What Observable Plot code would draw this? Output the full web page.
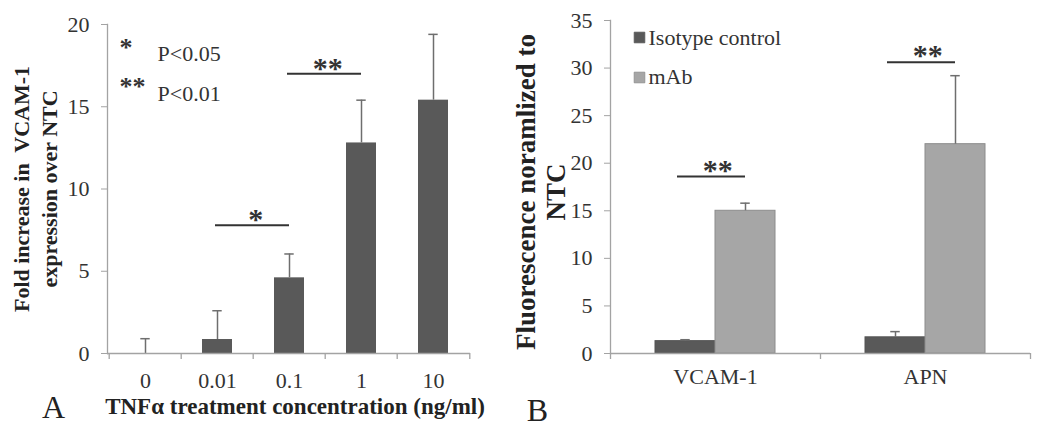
<!DOCTYPE html>
<html><head><meta charset="utf-8">
<script src="https://cdn.jsdelivr.net/npm/d3@7"></script>
<script src="https://cdn.jsdelivr.net/npm/@observablehq/plot@0.6"></script>
<style>
html,body{margin:0;padding:0;background:#fff;}
#wrap{display:flex;width:1050px;height:431px;overflow:hidden;}
#wrap svg{display:block;}
</style></head><body><div id="wrap"><div id="a"></div><div id="b"></div></div>
<script>
// ---- Panel A data ----
const concLabels = ["0", "0.01", "0.1", "1", "10"];
const foldMean = [0, 0.85, 4.6, 12.8, 15.4];
const foldUpper = [0.9, 2.6, 6.05, 15.4, 19.4];
const yTicksA = [0, 5, 10, 15, 20];
const sigAFrom = ["0.01", "0.1"];
const sigATo = ["0.1", "1"];
const sigALevel = [7.8, 17.0];
const sigALabel = ["*", "**"];
const keyStars = ["*", "**"];
const keyText = ["P<0.05", "P<0.01"];

// ---- Panel B data ----
const markers = ["VCAM-1", "APN"];
const series = ["Isotype control", "mAb"];
const isotypeMean = [1.3, 1.7];
const isotypeUpper = [1.45, 2.3];
const mAbMean = [15.0, 22.0];
const mAbUpper = [15.8, 29.2];
const yTicksB = [0, 5, 10, 15, 20, 25, 30, 35];
const sigBLevel = [18.6, 30.6];
const sigBLabel = ["**", "**"];

const FONT = "'Liberation Serif', 'Times New Roman', serif";
const AXIS = "#a3a3a3", DARK = "#595959", LIGHT = "#a6a6a6", ERR = "#6e6e6e", TXT = "#333", TITLE = "#222";

// ---------- Panel A ----------
const A = concLabels.map((c, i) => ({conc: c, mean: foldMean[i], upper: foldUpper[i]}));
const sigA = sigAFrom.map((f, i) => ({from: f, to: sigATo[i], level: sigALevel[i], label: sigALabel[i]}));
const wA = 500, hA = 431, mlA = 107, mrA = 30, mtA = 24, mbA = 78;
const stepA = (wA - mlA - mrA) / concLabels.length;

const keyMarksA = [];
keyStars.forEach((s, i) => {
  keyMarksA.push(Plot.text([s], {text: d => d, frameAnchor: "top-left", textAnchor: "start", lineAnchor: "bottom", dx: 12, dy: [31, 70][i], fontSize: 26, fontWeight: "bold", fill: TXT}));
  keyMarksA.push(Plot.text([keyText[i]], {text: d => d, frameAnchor: "top-left", textAnchor: "start", lineAnchor: "bottom", dx: 50, dy: [36, 76][i], fontSize: 22, fill: TXT}));
});

const plotA = Plot.plot({
  width: wA, height: hA, marginLeft: mlA, marginRight: mrA, marginTop: mtA, marginBottom: mbA,
  style: {fontFamily: FONT, fontSize: "22px", color: TXT, background: "#fff"},
  x: {domain: concLabels, padding: 0},
  y: {domain: [0, 20]},
  marks: [
    Plot.barY(A, {x: "conc", y: "mean", fill: DARK, insetLeft: 21, insetRight: 21}),
    Plot.ruleX(A, {x: "conc", y1: "mean", y2: "upper", stroke: ERR, strokeWidth: 1.5}),
    Plot.tickY(A, {x: "conc", y: "upper", stroke: ERR, strokeWidth: 1.5, inset: (stepA - 10) / 2}),
    Plot.ruleY([0], {stroke: AXIS, strokeWidth: 1.3}),
    Plot.frame({anchor: "left", stroke: AXIS, strokeWidth: 1.3}),
    Plot.ruleX(concLabels, {x: d => d, y1: 0, y2: 0, insetBottom: -6, dx: -stepA / 2, stroke: AXIS, strokeWidth: 1.3}),
    Plot.ruleX(concLabels.slice(-1), {x: d => d, y1: 0, y2: 0, insetBottom: -6, dx: stepA / 2, stroke: AXIS, strokeWidth: 1.3}),
    Plot.axisY({ticks: yTicksA, tickSize: 6, text: null, color: AXIS, label: null}),
    Plot.axisY({ticks: yTicksA, tickSize: 0, tickPadding: 18, color: TXT, label: null}),
    Plot.axisX({tickSize: 0, tickPadding: 19, color: TXT, label: null}),
    Plot.ruleY(sigA, {x1: "from", x2: "to", y: "level", insetLeft: 34, insetRight: 36, stroke: "#333", strokeWidth: 2}),
    Plot.text(sigA, {x: "from", y: "level", text: "label", dx: stepA / 2 + 2, dy: 4, lineAnchor: "bottom", fontSize: 30, fontWeight: "bold", fill: "#333"}),
    ...keyMarksA,
    Plot.text(["Fold increase in  VCAM-1\nexpression over NTC"], {text: d => d, frameAnchor: "left", textAnchor: "middle", rotate: -90, dx: -73, lineHeight: 1.27, lineAnchor: "middle", fontWeight: "bold", fontSize: 22, fill: TITLE}),
    Plot.text(["TNFα treatment concentration (ng/ml)"], {text: d => d, frameAnchor: "bottom", textAnchor: "middle", lineAnchor: "bottom", dx: 6, dy: 60, fontWeight: "bold", fontSize: 23, fill: TITLE}),
    Plot.text(["A"], {text: d => d, frameAnchor: "bottom-left", textAnchor: "middle", lineAnchor: "bottom", dx: -54, dy: 64, fontSize: 32, fill: TITLE})
  ]
});
document.getElementById("a").append(plotA);

// ---------- Panel B ----------
const B = [];
markers.forEach((m, i) => {
  B.push({marker: m, series: series[0], mean: isotypeMean[i], upper: isotypeUpper[i]});
  B.push({marker: m, series: series[1], mean: mAbMean[i], upper: mAbUpper[i]});
});
const sigB = markers.map((m, i) => ({marker: m, level: sigBLevel[i], label: sigBLabel[i]}));
const wB = 550, hB = 431, mlB = 110, mrB = 20, mtB = 20, mbB = 78;
const facetW = (wB - mlB - mrB) / markers.length;
const outerPad = 0.735;
const stepB = facetW / (2 + 2 * outerPad);
const seriesFill = [DARK, LIGHT];
const seriesStroke = ["#555", "#8c8c8c"];

const legendB = [];
series.forEach((s, i) => {
  legendB.push(Plot.dot([s], {fx: () => markers[0], frameAnchor: "top-left", symbol: "square", r: 6, fill: seriesFill[i], stroke: seriesStroke[i], strokeWidth: 0.8, dx: 29, dy: [17, 57][i]}));
  legendB.push(Plot.text([s], {fx: () => markers[0], text: d => d, frameAnchor: "top-left", textAnchor: "start", lineAnchor: "bottom", dx: 38, dy: [24, 63][i], fontSize: 22, fill: TXT}));
});

const plotB = Plot.plot({
  width: wB, height: hB, marginLeft: mlB, marginRight: mrB, marginTop: mtB, marginBottom: mbB,
  style: {fontFamily: FONT, fontSize: "22px", color: TXT, background: "#fff"},
  fx: {domain: markers, padding: 0},
  x: {domain: series, paddingInner: 0, paddingOuter: outerPad, axis: null},
  y: {domain: [0, 35]},
  marks: [
    ...series.map((s, i) => Plot.barY(B.filter(d => d.series === s), {fx: "marker", x: "series", y: "mean", fill: seriesFill[i], stroke: seriesStroke[i], strokeWidth: 1})),
    Plot.ruleX(B, {fx: "marker", x: "series", y1: "mean", y2: "upper", stroke: ERR, strokeWidth: 1.5}),
    Plot.tickY(B, {fx: "marker", x: "series", y: "upper", stroke: ERR, strokeWidth: 1.5, inset: (stepB - 10) / 2}),
    Plot.ruleY([0], {stroke: AXIS, strokeWidth: 1.3}),
    Plot.frame({anchor: "left", facetAnchor: "left", stroke: AXIS, strokeWidth: 1.3}),
    Plot.ruleX(markers, {fx: d => d, x: null, y1: 0, y2: 0, insetBottom: -6, dx: -facetW / 2, stroke: AXIS, strokeWidth: 1.3}),
    Plot.ruleX(markers.slice(-1), {fx: d => d, x: null, y1: 0, y2: 0, insetBottom: -6, dx: facetW / 2, stroke: AXIS, strokeWidth: 1.3}),
    Plot.axisY({ticks: yTicksB, tickSize: 6, text: null, color: AXIS, label: null}),
    Plot.axisY({ticks: yTicksB, tickSize: 0, tickPadding: 18, color: TXT, label: null}),
    Plot.axisFx({anchor: "bottom", tickSize: 0, tickPadding: 15, color: TXT, label: null}),
    Plot.ruleY(sigB, {fx: "marker", x1: () => series[0], x2: () => series[1], y: "level", insetLeft: 22, insetRight: 30, stroke: "#333", strokeWidth: 2}),
    Plot.text(sigB, {fx: "marker", x: () => series[0], y: "level", text: "label", dx: stepB / 2 + 2, dy: 3, lineAnchor: "bottom", fontSize: 30, fontWeight: "bold", fill: "#333"}),
    ...legendB,
    Plot.text(["Fluorescence noramlized to\nNTC"], {fx: () => markers[0], text: d => d, frameAnchor: "left", textAnchor: "middle", rotate: -90, dx: -70, dy: 5, lineHeight: 1.1, lineAnchor: "middle", fontWeight: "bold", fontSize: 27, fill: TITLE}),
    Plot.text(["B"], {fx: () => markers[0], text: d => d, frameAnchor: "bottom-left", textAnchor: "middle", lineAnchor: "bottom", dx: -73, dy: 67, fontSize: 32, fill: TITLE})
  ]
});
document.getElementById("b").append(plotB);
</script>
</body></html>
